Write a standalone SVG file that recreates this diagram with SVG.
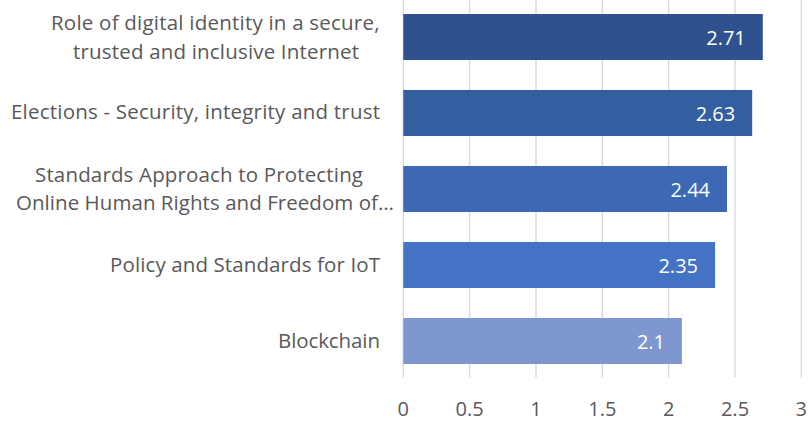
<svg xmlns="http://www.w3.org/2000/svg" width="809" height="423" viewBox="0 0 809 423">
<style>
.cat{font-family:"Open Sans","Noto Sans","Liberation Sans",sans-serif;font-size:20.5px;fill:#595959}
.val{font-family:"Open Sans","Noto Sans","Liberation Sans",sans-serif;font-size:20px;fill:#ffffff;text-anchor:end}
.tick{font-family:"Open Sans","Noto Sans","Liberation Sans",sans-serif;font-size:20px;fill:#595959;text-anchor:middle}
.grid{stroke:#D9D9D9;stroke-width:1.4}
</style>
<rect width="809" height="423" fill="#ffffff"/>
<g id="gridlines">
<line class="grid" x1="403.3" y1="0" x2="403.3" y2="377.5"/>
<line class="grid" x1="469.6" y1="0" x2="469.6" y2="377.5"/>
<line class="grid" x1="536" y1="0" x2="536" y2="377.5"/>
<line class="grid" x1="602.3" y1="0" x2="602.3" y2="377.5"/>
<line class="grid" x1="668.6" y1="0" x2="668.6" y2="377.5"/>
<line class="grid" x1="735" y1="0" x2="735" y2="377.5"/>
<line class="grid" x1="801.3" y1="0" x2="801.3" y2="377.5"/>
</g>
<g id="axis-labels">
<text class="tick" x="403.3" y="416">0</text>
<text class="tick" x="469.6" y="416">0.5</text>
<text class="tick" x="536" y="416">1</text>
<text class="tick" x="602.3" y="416">1.5</text>
<text class="tick" x="668.6" y="416">2</text>
<text class="tick" x="735" y="416">2.5</text>
<text class="tick" x="801.3" y="416">3</text>
</g>
<g id="bar-digital-identity">
<rect x="403.3" y="14" width="359.5" height="46" fill="#2F528F"/>
<text class="cat" x="51" y="29.5" textLength="328.5">Role of digital identity in a secure,</text>
<text class="cat" x="73" y="58.5" textLength="286">trusted and inclusive Internet</text>
<text class="val" x="745.8" y="45">2.71</text>
</g>
<g id="bar-elections">
<rect x="403.3" y="90" width="348.9" height="46" fill="#355EA1"/>
<text class="cat" x="11" y="119.3" textLength="369">Elections - Security, integrity and trust</text>
<text class="val" x="735.2" y="121.3">2.63</text>
</g>
<g id="bar-standards-human-rights">
<rect x="403.3" y="166" width="323.7" height="46" fill="#3C68B4"/>
<text class="cat" x="35" y="181.5" textLength="328">Standards Approach to Protecting</text>
<text class="cat" x="16" y="210" textLength="378">Online Human Rights and Freedom of…</text>
<text class="val" x="710" y="197">2.44</text>
</g>
<g id="bar-iot">
<rect x="403.3" y="242" width="311.8" height="46" fill="#4472C4"/>
<text class="cat" x="110" y="271.5" textLength="270">Policy and Standards for IoT</text>
<text class="val" x="698" y="273.3">2.35</text>
</g>
<g id="bar-blockchain">
<rect x="403.3" y="318" width="278.6" height="46" fill="#7F97CF"/>
<text class="cat" x="278" y="348" textLength="102">Blockchain</text>
<text class="val" x="665" y="349.3">2.1</text>
</g>
<g id="connectors"/>
</svg>
